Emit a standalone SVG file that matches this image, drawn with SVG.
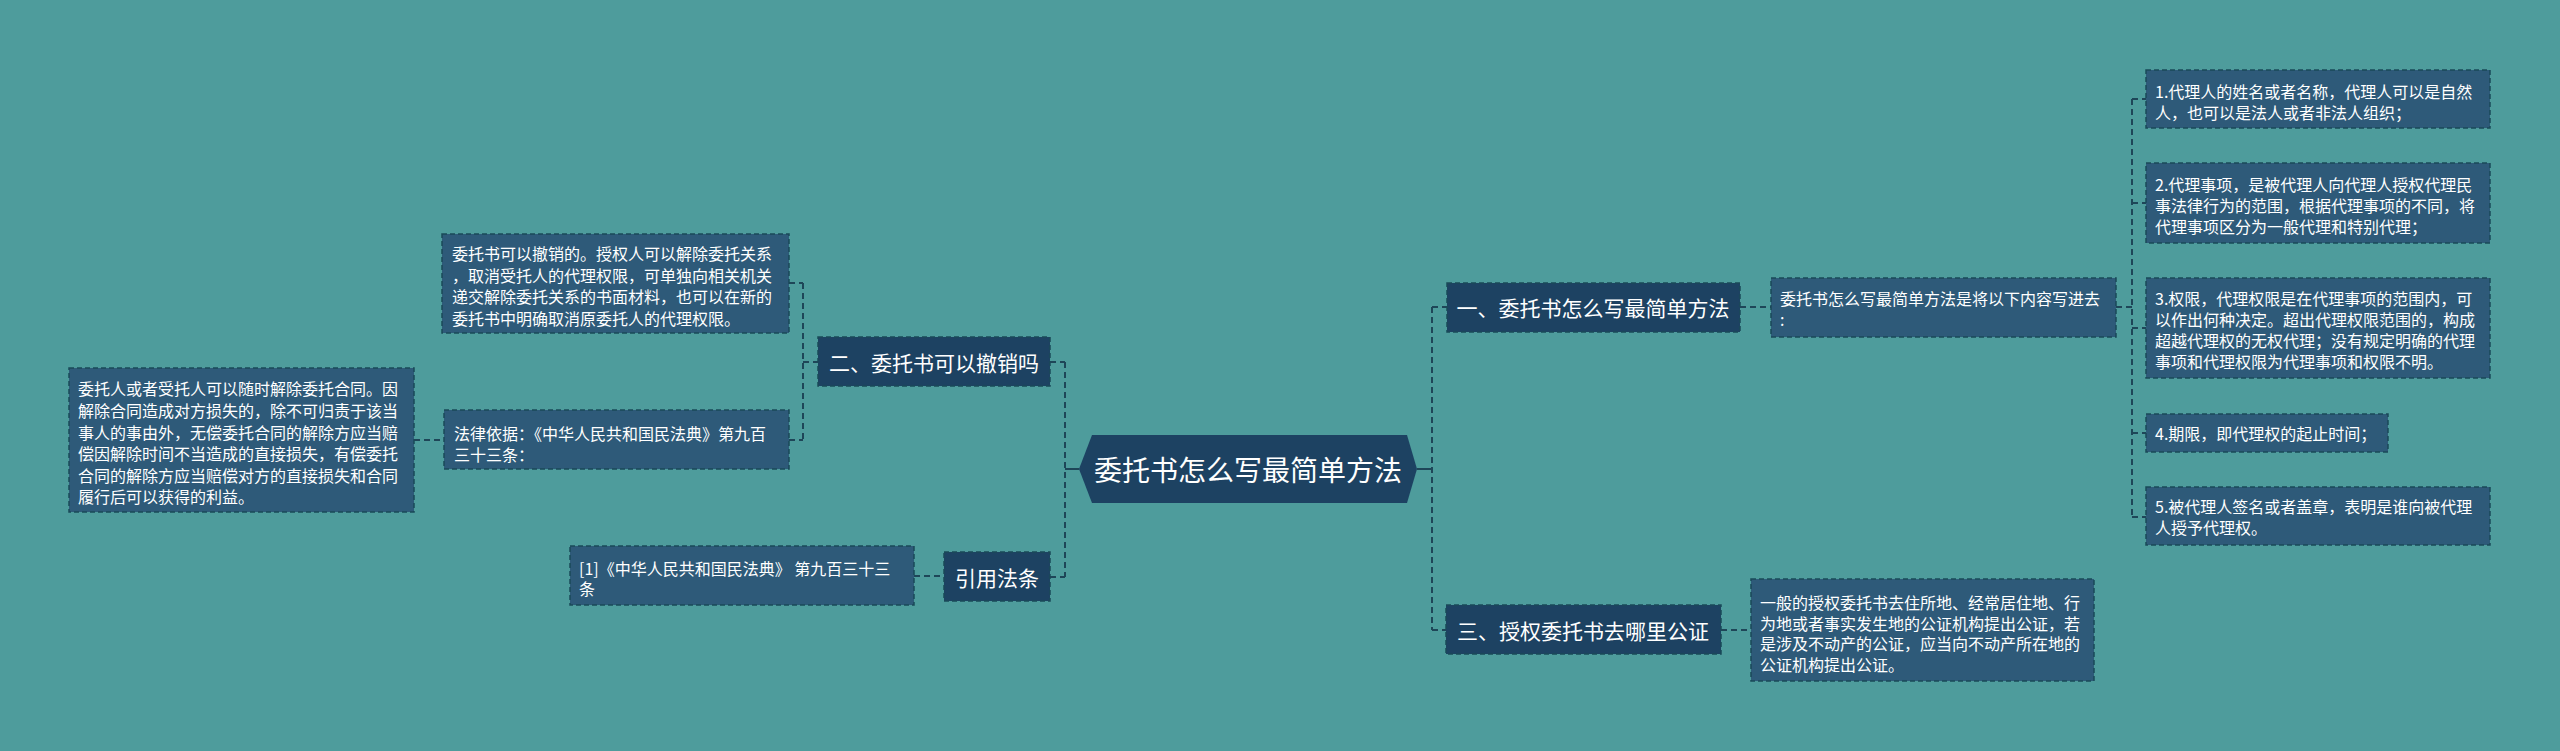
<svg xmlns="http://www.w3.org/2000/svg" width="2560" height="751" viewBox="0 0 2560 751">
<style>
.bg{fill:#4E9C9C}
.topic{fill:#1D4262;stroke:#1A4A58;stroke-width:1.5;stroke-dasharray:5 3}
.leaf{fill:#2E5A79;stroke:#1A4A58;stroke-width:1.5;stroke-dasharray:5 3}
.t{font-family:"Noto Sans CJK SC","Liberation Sans",sans-serif;fill:#FFFFFF;dominant-baseline:central}
.s{font-size:16px}
.m{font-size:21px}
.c{font-size:28px}
.ln{fill:none;stroke:#1E4658;stroke-width:2;stroke-dasharray:6 4}
.sl{fill:none;stroke:#1E4658;stroke-width:2}
</style>
<rect class="bg" x="0" y="0" width="2560" height="751"/>
<g id="connectors">
<path class="sl" d="M1065 469 H1079 M1417 469 H1432"/>
<path class="ln" d="M1065 362 V577 M1050 362 H1065 M1050 577 H1065"/>
<path class="ln" d="M803 283 V440 M789 283 H803 M803 362 H818 M789 440 H803"/>
<path class="ln" d="M414 440 H444"/>
<path class="ln" d="M914 576 H944"/>
<path class="ln" d="M1432 307 V630 M1432 307 H1447 M1432 630 H1446"/>
<path class="ln" d="M1740 307 H1771"/>
<path class="ln" d="M2116 307 H2132 M2132 99 V517 M2132 99 H2146 M2132 203 H2146 M2132 328 H2146 M2132 433 H2146 M2132 517 H2146"/>
<path class="ln" d="M1721 630 H1751"/>
</g>
<g id="center">
<polygon points="1079,469 1092,435 1407,435 1417,469 1407,503 1092,503" fill="#1D4262"/>
<text class="t c" x="1248" y="469" text-anchor="middle">委托书怎么写最简单方法</text>
</g>
<g id="n-revoke">
<rect class="topic" x="818" y="337" width="232" height="49"/>
<text class="t m" x="934" y="362" text-anchor="middle">二、委托书可以撤销吗</text>
</g>
<g id="n-revoke-1">
<rect class="leaf" x="442" y="234" width="347" height="99"/>
<text class="t s" x="452" y="253">委托书可以撤销的。授权人可以解除委托关系</text>
<text class="t s" x="452" y="274.5">，取消受托人的代理权限，可单独向相关机关</text>
<text class="t s" x="452" y="296">递交解除委托关系的书面材料，也可以在新的</text>
<text class="t s" x="452" y="317.5">委托书中明确取消原委托人的代理权限。</text>
</g>
<g id="n-revoke-2">
<rect class="leaf" x="444" y="410" width="345" height="59"/>
<text class="t s" x="454" y="433">法律依据：《中华人民共和国民法典》第九百</text>
<text class="t s" x="454" y="454">三十三条：</text>
</g>
<g id="n-revoke-3">
<rect class="leaf" x="69" y="368" width="345" height="144"/>
<text class="t s" x="78" y="388">委托人或者受托人可以随时解除委托合同。因</text>
<text class="t s" x="78" y="410">解除合同造成对方损失的，除不可归责于该当</text>
<text class="t s" x="78" y="432">事人的事由外，无偿委托合同的解除方应当赔</text>
<text class="t s" x="78" y="453">偿因解除时间不当造成的直接损失，有偿委托</text>
<text class="t s" x="78" y="475">合同的解除方应当赔偿对方的直接损失和合同</text>
<text class="t s" x="78" y="496">履行后可以获得的利益。</text>
</g>
<g id="n-ref">
<rect class="topic" x="944" y="552" width="106" height="49"/>
<text class="t m" x="997" y="577" text-anchor="middle">引用法条</text>
</g>
<g id="n-ref-1">
<rect class="leaf" x="570" y="546" width="344" height="59"/>
<text class="t s" x="579" y="568">[1]《中华人民共和国民法典》 第九百三十三</text>
<text class="t s" x="579" y="588">条</text>
</g>
<g id="n-how">
<rect class="topic" x="1447" y="283" width="293" height="49"/>
<text class="t m" x="1593" y="307" text-anchor="middle">一、委托书怎么写最简单方法</text>
</g>
<g id="n-how-0">
<rect class="leaf" x="1771" y="278" width="345" height="59"/>
<text class="t s" x="1780" y="298">委托书怎么写最简单方法是将以下内容写进去</text>
<text class="t s" x="1780" y="319">:</text>
</g>
<g id="n-how-1">
<rect class="leaf" x="2146" y="70" width="344" height="58"/>
<text class="t s" x="2155" y="91">1.代理人的姓名或者名称，代理人可以是自然</text>
<text class="t s" x="2155" y="112">人，也可以是法人或者非法人组织；</text>
</g>
<g id="n-how-2">
<rect class="leaf" x="2146" y="163" width="344" height="80"/>
<text class="t s" x="2155" y="184">2.代理事项，是被代理人向代理人授权代理民</text>
<text class="t s" x="2155" y="205">事法律行为的范围，根据代理事项的不同，将</text>
<text class="t s" x="2155" y="226">代理事项区分为一般代理和特别代理；</text>
</g>
<g id="n-how-3">
<rect class="leaf" x="2146" y="278" width="344" height="100"/>
<text class="t s" x="2155" y="298">3.权限，代理权限是在代理事项的范围内，可</text>
<text class="t s" x="2155" y="319">以作出何种决定。超出代理权限范围的，构成</text>
<text class="t s" x="2155" y="340">超越代理权的无权代理；没有规定明确的代理</text>
<text class="t s" x="2155" y="361">事项和代理权限为代理事项和权限不明。</text>
</g>
<g id="n-how-4">
<rect class="leaf" x="2146" y="414" width="242" height="38"/>
<text class="t s" x="2155" y="433">4.期限，即代理权的起止时间；</text>
</g>
<g id="n-how-5">
<rect class="leaf" x="2146" y="487" width="344" height="58"/>
<text class="t s" x="2155" y="506">5.被代理人签名或者盖章，表明是谁向被代理</text>
<text class="t s" x="2155" y="527">人授予代理权。</text>
</g>
<g id="n-notary">
<rect class="topic" x="1446" y="605" width="275" height="49"/>
<text class="t m" x="1583" y="630" text-anchor="middle">三、授权委托书去哪里公证</text>
</g>
<g id="n-notary-1">
<rect class="leaf" x="1751" y="579" width="343" height="102"/>
<text class="t s" x="1760" y="602">一般的授权委托书去住所地、经常居住地、行</text>
<text class="t s" x="1760" y="623">为地或者事实发生地的公证机构提出公证，若</text>
<text class="t s" x="1760" y="643">是涉及不动产的公证，应当向不动产所在地的</text>
<text class="t s" x="1760" y="664">公证机构提出公证。</text>
</g>
</svg>
